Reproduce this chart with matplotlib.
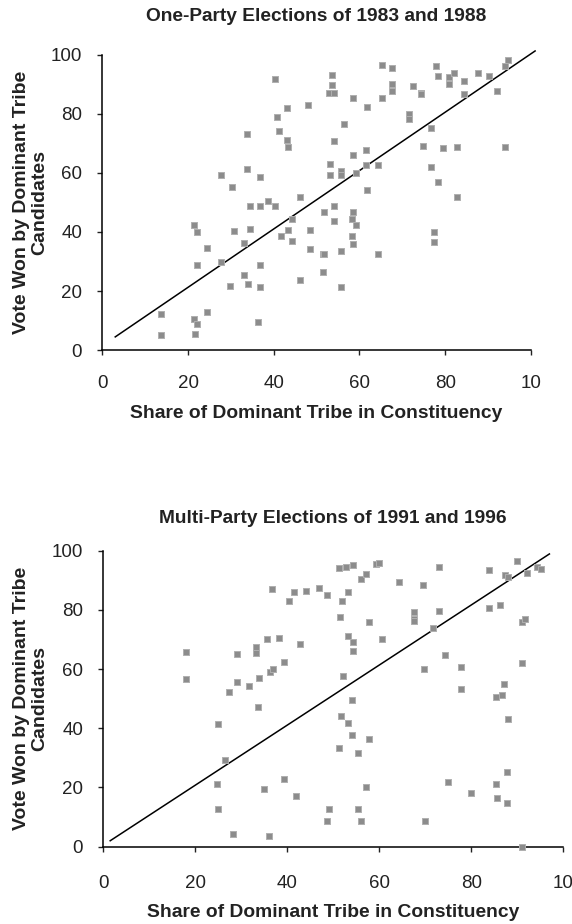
import matplotlib.pyplot as plt

plt.rcParams['font.family'] = ['Liberation Sans', 'DejaVu Sans']

# one-party elections 1983 / 1988
one_x = [13.7, 13.7, 21.4, 22.2, 22.2, 24.5, 21.4, 22.2, 21.7, 24.5, 27.7, 27.7, 30.3, 29.8,
         30.8, 33.0, 33.0, 34.0, 33.7, 33.7, 34.5, 34.5, 36.8, 36.8, 36.8, 36.8, 36.3, 38.6,
         40.2, 40.2, 40.7, 41.3, 43.1, 43.1, 43.3, 41.7, 43.3, 44.3, 44.3, 46.2, 46.2, 48.0,
         48.5, 48.5, 51.5, 51.7, 51.5, 51.7, 53.5, 53.5, 52.8, 54.1, 54.0, 53.2, 53.2, 54.0,
         54.0, 55.8, 55.8, 55.8, 55.8, 56.3, 58.6, 58.6, 59.2, 58.6, 58.2, 59.2, 58.2, 58.6,
         61.8, 61.5, 61.5, 61.8, 64.4, 64.4, 65.2, 65.2, 67.7, 67.5, 67.5, 72.5, 71.6, 71.6,
         74.3, 74.4, 74.8, 76.8, 76.8, 78.4, 77.3, 77.3, 77.9, 78.4, 79.6, 81.0, 81.0, 82.0,
         82.7, 82.7, 84.5, 84.5, 87.7, 90.3, 92.1, 94.0, 94.7, 94.0]
one_y = [12.4, 5.2, 42.5, 40.1, 28.9, 34.5, 10.5, 8.8, 5.6, 12.9, 29.8, 59.1, 55.1, 21.6,
         40.2, 36.1, 25.3, 22.4, 73.2, 61.4, 48.9, 40.9, 58.6, 48.6, 28.9, 21.3, 9.6, 50.3,
         48.9, 91.6, 78.8, 74.1, 81.9, 71.1, 68.8, 38.6, 40.6, 44.5, 37.0, 51.8, 23.8, 82.9,
         40.6, 34.2, 32.7, 32.6, 26.5, 46.9, 93.2, 89.6, 87.1, 87.1, 70.7, 63.1, 59.1, 48.7,
         43.7, 60.5, 59.1, 33.7, 21.3, 76.4, 85.2, 65.9, 59.9, 46.7, 44.5, 42.3, 38.7, 35.8,
         82.4, 67.6, 62.7, 54.2, 62.7, 32.6, 96.5, 85.2, 95.3, 90.1, 87.7, 89.3, 79.8, 78.2,
         87.1, 86.7, 69.1, 75.2, 61.9, 57.0, 40.1, 36.5, 96.2, 92.9, 68.3, 92.4, 90.0, 93.7,
         68.8, 51.8, 90.9, 86.5, 93.7, 92.9, 87.7, 96.2, 98.1, 68.8]
one_fit_x = [3.0, 101.0]
one_fit_y = [4.5, 101.2]

# multi-party elections 1991 / 1996
multi_x = [18.0, 18.0, 24.9, 24.7, 24.9, 26.5, 27.3, 28.3, 29.1, 29.1, 31.7, 33.2, 33.2, 33.6,
           33.8, 35.0, 35.6, 36.1, 36.7, 36.2, 37.0, 38.1, 39.2, 39.2, 40.3, 41.5, 41.9, 42.8,
           44.1, 47.0, 48.6, 49.0, 48.6, 51.3, 52.8, 54.2, 51.5, 52.0, 53.3, 53.2, 54.2, 54.2,
           52.1, 54.0, 51.6, 53.2, 54.0, 51.2, 55.3, 57.8, 57.8, 60.7, 56.0, 57.1, 59.3, 59.9,
           57.1, 55.3, 56.0, 64.3, 69.5, 67.5, 67.5, 67.6, 73.1, 73.1, 71.6, 69.8, 69.9, 74.4,
           74.9, 77.8, 77.8, 79.9, 83.8, 83.8, 86.3, 85.3, 86.8, 87.2, 88.1, 85.3, 87.7, 85.6,
           87.7, 87.4, 87.9, 90.0, 92.1, 91.0, 91.6, 91.0, 91.0, 94.2, 95.2]
multi_y = [65.9, 56.7, 41.5, 21.3, 12.8, 29.3, 52.3, 4.4, 65.2, 55.5, 54.3, 67.5, 65.5, 47.1,
           57.1, 19.4, 70.1, 3.7, 87.0, 59.1, 59.9, 70.5, 62.3, 23.0, 82.9, 86.0, 17.2, 68.4,
           86.5, 87.3, 84.9, 12.8, 8.8, 94.2, 94.5, 95.1, 77.7, 83.0, 86.0, 71.2, 69.3, 66.0,
           57.6, 49.5, 44.3, 41.9, 37.7, 33.4, 31.8, 36.3, 76.0, 70.1, 90.5, 92.1, 95.5, 95.7,
           20.1, 12.8, 8.8, 89.4, 88.5, 79.3, 76.9, 76.4, 94.6, 79.7, 74.0, 59.9, 8.8, 64.9,
           21.8, 60.8, 53.2, 18.1, 93.4, 80.5, 81.7, 50.7, 51.1, 54.9, 43.1, 21.3, 25.3, 16.6,
           14.9, 91.8, 91.0, 96.6, 92.6, 76.0, 76.9, 62.0, 0.0, 94.6, 93.8]
multi_fit_x = [1.5, 97.0]
multi_fit_y = [2.0, 98.9]

ticks = [0, 20, 40, 60, 80, 100]
xtick_labels = ['0', '20', '40', '60', '80', '10']
ytick_labels = ['0', '20', '40', '60', '80', '100']

fig = plt.figure(figsize=(5.72, 9.24), dpi=100)
ax1 = fig.add_axes([0.179, 0.621, 0.749, 0.320])
ax2 = fig.add_axes([0.1806, 0.0837, 0.804, 0.3203])

# axes, data, fit, title, title pad, x tick pad, xlabel pad, ylabel offset (px)
panels = [
    (ax1, one_x, one_y, one_fit_x, one_fit_y, 'One-Party Elections of 1983 and 1988', 24, 14, 10, 54.5),
    (ax2, multi_x, multi_y, multi_fit_x, multi_fit_y, 'Multi-Party Elections of 1991 and 1996', 20, 17, 8.5, 55.3),
]

for ax, xs, ys, fx, fy, title, tpad, xpad, lpad, yoff in panels:
    ax.plot(fx, fy, color='black', linewidth=1.1, clip_on=False)
    ax.scatter(xs, ys, marker='s', s=24, color='#8c8c8c', edgecolors='#b0b0b0',
               linewidths=0.7, clip_on=False, zorder=3)
    ax.set_xlim(0, 100)
    ax.set_ylim(0, 100)
    ax.set_xticks(ticks)
    ax.set_xticklabels(xtick_labels)
    ax.set_yticks(ticks)
    ax.set_yticklabels(ytick_labels)
    for side in ['top', 'right']:
        ax.spines[side].set_visible(False)
    for side in ['left', 'bottom']:
        ax.spines[side].set_linewidth(1.1)
    ax.tick_params(direction='out', length=3.5, width=1, labelsize=13.5, colors='#222222')
    ax.tick_params(axis='y', pad=11)
    ax.tick_params(axis='x', pad=xpad)
    ax.set_title(title, fontsize=13.8, fontweight='bold', pad=tpad, color='#222222')
    ax.set_xlabel('Share of Dominant Tribe in Constituency', fontsize=13.9,
                  fontweight='bold', labelpad=lpad, color='#222222')
    ax.set_ylabel('Vote Won by Dominant Tribe\nCandidates', fontsize=14,
                  fontweight='bold', color='#222222', linespacing=1.1)
    ax.yaxis.set_label_coords(-yoff / (ax.get_position().width * 572), 0.5)

fig.savefig('out.png', dpi=100)
